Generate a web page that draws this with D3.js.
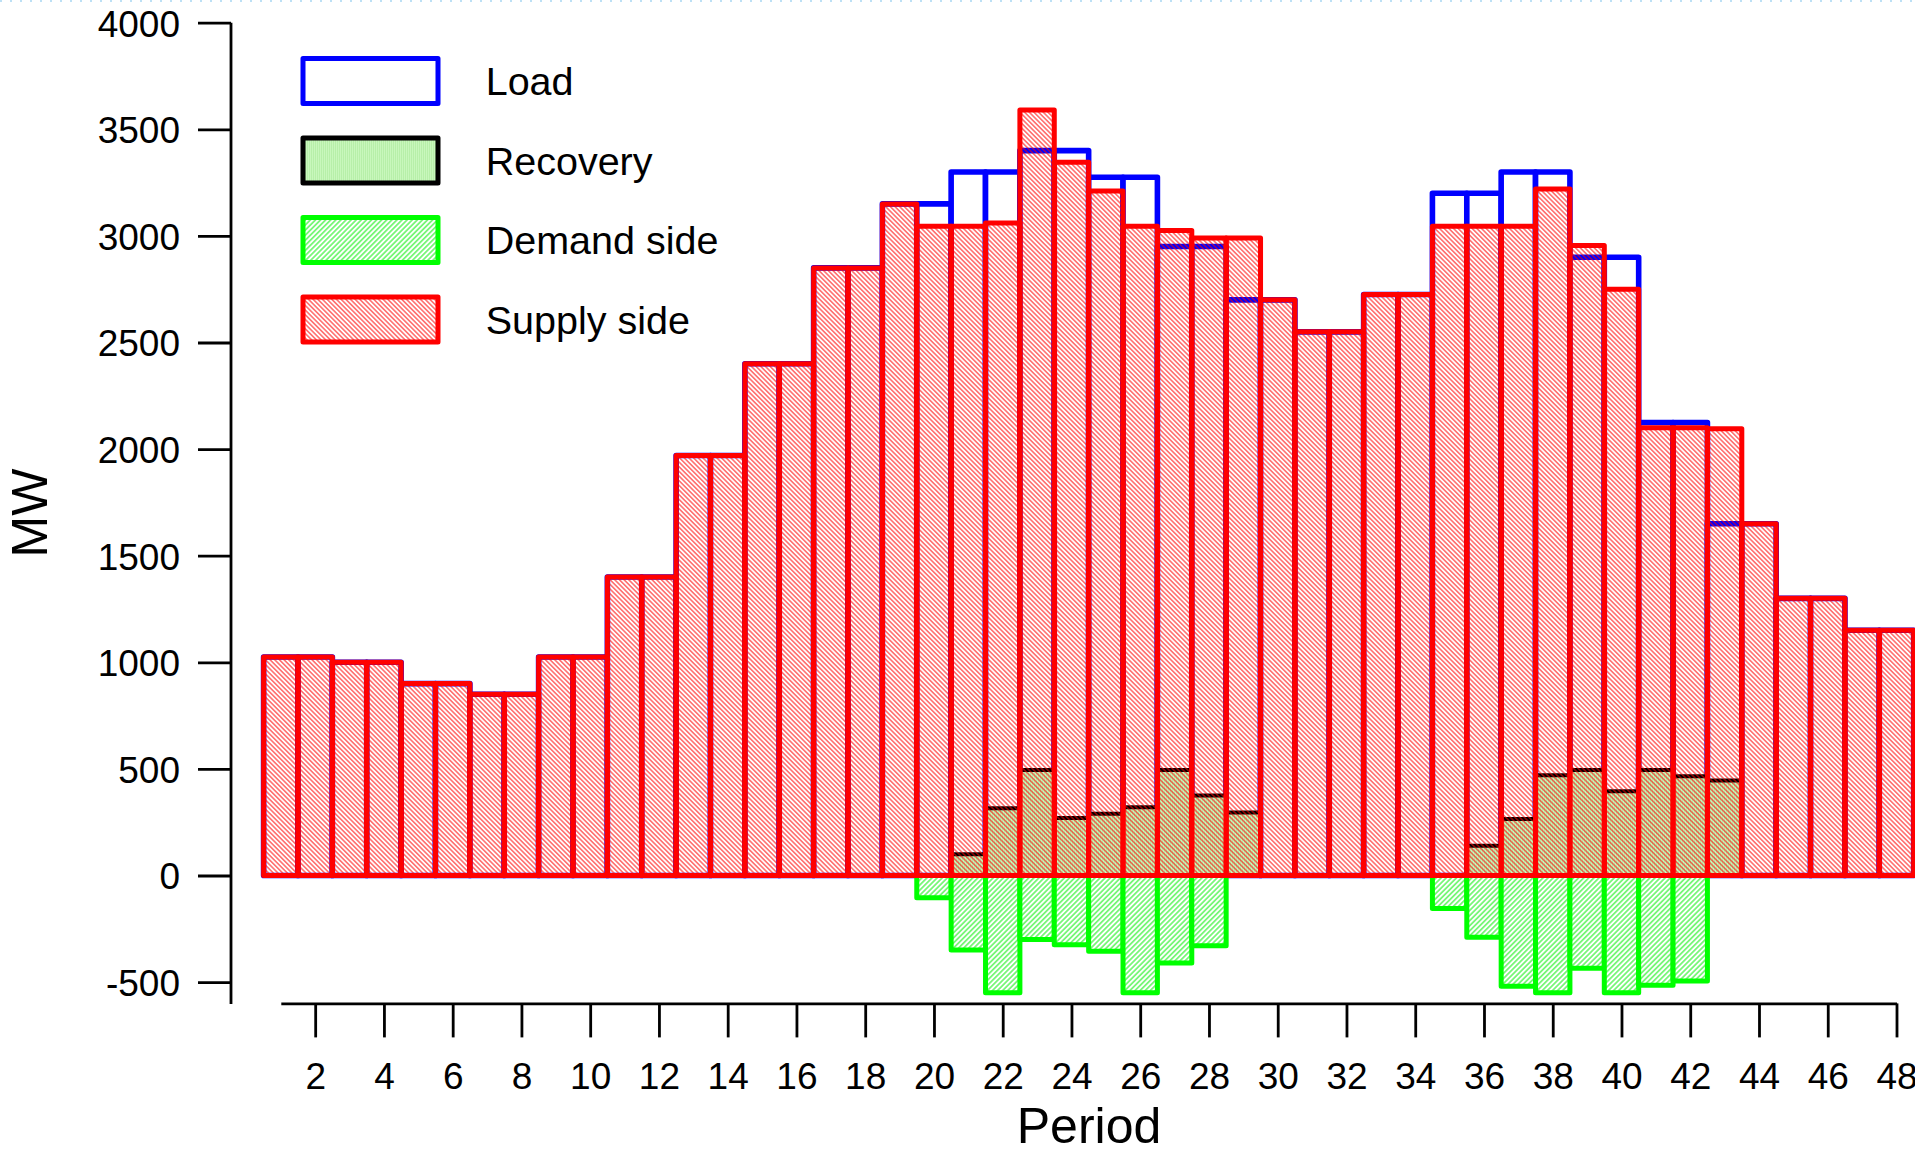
<!DOCTYPE html>
<html>
<head>
<meta charset="utf-8">
<script src="https://cdn.jsdelivr.net/npm/d3@7"></script>
<style>
  html, body { margin: 0; padding: 0; background: #fff; }
  svg { display: block; font-family: "Liberation Sans", Arial, Helvetica, sans-serif; }
</style>
</head>
<body>
<div id="chart"></div>
<script>
// Half-hourly periods of the day
const periods = d3.range(1, 49);

// System load (MW)
const load = [1025, 1025, 1000, 1000, 900, 900, 850, 850, 1025, 1025, 1400, 1400,
  1970, 1970, 2400, 2400, 2850, 2850, 3150, 3150, 3300, 3300, 3400, 3400,
  3275, 3275, 2950, 2950, 2700, 2700, 2550, 2550, 2725, 2725, 3200, 3200,
  3300, 3300, 2900, 2900, 2125, 2125, 1650, 1650, 1300, 1300, 1150, 1150];

// Supply-side output (MW)
const supply = [1025, 1025, 1000, 1000, 900, 900, 850, 850, 1025, 1025, 1400, 1400,
  1970, 1970, 2400, 2400, 2850, 2850, 3150, 3045, 3045, 3060, 3590, 3345,
  3210, 3045, 3025, 2990, 2990, 2700, 2550, 2550, 2725, 2725, 3045, 3045,
  3045, 3220, 2955, 2750, 2100, 2100, 2095, 1650, 1300, 1300, 1150, 1150];

// Load recovery after curtailment (MW)
const recovery = [0, 0, 0, 0, 0, 0, 0, 0, 0, 0, 0, 0,
  0, 0, 0, 0, 0, 0, 0, 0, 100, 315, 495, 270,
  290, 320, 495, 375, 295, 0, 0, 0, 0, 0, 0, 140,
  265, 470, 495, 395, 495, 465, 445, 0, 0, 0, 0, 0];

// Demand-side response (MW, curtailment shown negative)
const demand = [0, 0, 0, 0, 0, 0, 0, 0, 0, 0, 0, 0,
  0, 0, 0, 0, 0, 0, 0, -105, -350, -550, -300, -325,
  -355, -550, -410, -330, 0, 0, 0, 0, 0, 0, -155, -290,
  -520, -550, -435, -550, -515, -495, 0, 0, 0, 0, 0, 0];

const xTickValues = d3.range(2, 49, 2);
const yTickValues = d3.range(-500, 4001, 500);
const legendLabels = ["Load", "Recovery", "Demand side", "Supply side"];

const W = 1915, H = 1151;
const svg = d3.select("#chart").append("svg")
  .attr("width", W).attr("height", H);

const defs = svg.append("defs");

// Red back-slash hatch for supply side
const pSupply = defs.append("pattern")
  .attr("id", "hatchSupply").attr("patternUnits", "userSpaceOnUse")
  .attr("width", 3.3).attr("height", 3.3)
  .attr("patternTransform", "rotate(-45)");
pSupply.append("line").attr("x1", 1.65).attr("y1", -1).attr("x2", 1.65).attr("y2", 4.3)
  .attr("stroke", "#ff0000").attr("stroke-width", 0.9);

// Green forward-slash hatch for demand side
const pDemand = defs.append("pattern")
  .attr("id", "hatchDemand").attr("patternUnits", "userSpaceOnUse")
  .attr("width", 3.6).attr("height", 3.6)
  .attr("patternTransform", "rotate(45)");
pDemand.append("rect").attr("width", 3.6).attr("height", 3.6).attr("fill", "#ffffff");
pDemand.append("line").attr("x1", 1.8).attr("y1", -1).attr("x2", 1.8).attr("y2", 4.6)
  .attr("stroke", "#00ee00").attr("stroke-width", 0.95);

// Pale green fill with fine vertical lines for recovery
const pRec = defs.append("pattern")
  .attr("id", "fillRecovery").attr("patternUnits", "userSpaceOnUse")
  .attr("width", 2).attr("height", 2);
pRec.append("rect").attr("width", 2).attr("height", 2).attr("fill", "#c8f7bc");
pRec.append("line").attr("x1", 0.5).attr("y1", 0).attr("x2", 0.5).attr("y2", 2)
  .attr("stroke", "#b2eea4").attr("stroke-width", 0.8);

// Scales
const y = d3.scaleLinear().domain([-600, 4000]).range([1003.4, 22.7]);
const x = d3.scaleLinear().domain([1, 48]).range([280.8, 1896.5]);
const bw = x(2) - x(1);

// Faint dotted rule along the top edge
svg.append("line")
  .attr("x1", 0).attr("x2", W).attr("y1", 1).attr("y2", 1)
  .attr("stroke", "#a6d6f2").attr("stroke-width", 1.5)
  .attr("stroke-dasharray", "2,8");

const plot = svg.append("g");

function barRect(sel, values) {
  sel.attr("x", d => x(d) - bw / 2)
    .attr("width", bw)
    .attr("y", d => y(Math.max(values[d - 1], 0)))
    .attr("height", d => Math.abs(y(values[d - 1]) - y(0)));
}

// Load outlines
plot.append("g").selectAll("rect").data(periods).join("rect")
  .call(barRect, load)
  .attr("fill", "#ffffff").attr("stroke", "#0000ff")
  .attr("stroke-width", 5.6).attr("stroke-linejoin", "round");

// Recovery
plot.append("g").selectAll("rect").data(periods.filter(p => recovery[p - 1] !== 0)).join("rect")
  .call(barRect, recovery)
  .attr("fill", "url(#fillRecovery)").attr("stroke", "#000000")
  .attr("stroke-width", 4).attr("stroke-linejoin", "round");

// Demand side
plot.append("g").selectAll("rect").data(periods.filter(p => demand[p - 1] !== 0)).join("rect")
  .call(barRect, demand)
  .attr("fill", "url(#hatchDemand)").attr("stroke", "#00ff00")
  .attr("stroke-width", 5).attr("stroke-linejoin", "round");

// Supply side (transparent hatch on top)
plot.append("g").selectAll("rect").data(periods).join("rect")
  .call(barRect, supply)
  .attr("fill", "url(#hatchSupply)").attr("stroke", "#ff0000")
  .attr("stroke-width", 5).attr("stroke-linejoin", "round");

// Axes
const xAxis = svg.append("g")
  .attr("transform", `translate(0,${y(-600)})`)
  .call(d3.axisBottom(x).tickValues(xTickValues).tickSizeInner(34).tickSizeOuter(0)
    .tickPadding(25).tickFormat(d => String(d)));

const yAxis = svg.append("g")
  .attr("transform", "translate(231,0)")
  .call(d3.axisLeft(y).tickValues(yTickValues).tickSizeInner(33).tickSizeOuter(0)
    .tickPadding(18).tickFormat(d => String(d)));

[xAxis, yAxis].forEach(g => {
  g.select(".domain").attr("stroke", "#000").attr("stroke-width", 2.8);
  g.selectAll(".tick line").attr("stroke", "#000").attr("stroke-width", 2.8);
  g.selectAll(".tick text").attr("fill", "#000")
    .style("font-size", "37px")
    .style("font-family", "'Liberation Sans', Arial, sans-serif");
});
yAxis.selectAll(".tick text").attr("dy", "0.36em");
// Keep the y axis line running down to the bottom of the range
yAxis.select(".domain").attr("d", `M0,${y(4000)}V${y(-600) + 0.6}`);

// Axis titles
svg.append("text")
  .attr("x", 1089).attr("y", 1143)
  .attr("text-anchor", "middle")
  .style("font-size", "50px").attr("fill", "#000")
  .text("Period");

svg.append("text")
  .attr("transform", "translate(47,513) rotate(-90)")
  .attr("text-anchor", "middle")
  .style("font-size", "50px").attr("fill", "#000")
  .text("MW");

// Legend
const legendStyles = [
  { fill: "#ffffff", stroke: "#0000ff" },
  { fill: "url(#fillRecovery)", stroke: "#000000" },
  { fill: "url(#hatchDemand)", stroke: "#00ff00" },
  { fill: "url(#hatchSupply)", stroke: "#ff0000" }
];
const legend = svg.append("g");
const lg = legend.selectAll("g").data(legendLabels).join("g")
  .attr("transform", (d, i) => `translate(303,${81 + i * 79.5})`);
lg.append("rect")
  .attr("x", 0).attr("y", -22.5).attr("width", 135).attr("height", 45)
  .attr("fill", "#ffffff");
lg.append("rect")
  .attr("x", 0).attr("y", -22.5).attr("width", 135).attr("height", 45)
  .attr("fill", (d, i) => legendStyles[i].fill)
  .attr("stroke", (d, i) => legendStyles[i].stroke)
  .attr("stroke-width", 5).attr("stroke-linejoin", "round");
lg.append("text")
  .attr("x", 182.7).attr("y", 14)
  .style("font-size", "39.5px").attr("fill", "#000")
  .text(d => d);
</script>
</body>
</html>
